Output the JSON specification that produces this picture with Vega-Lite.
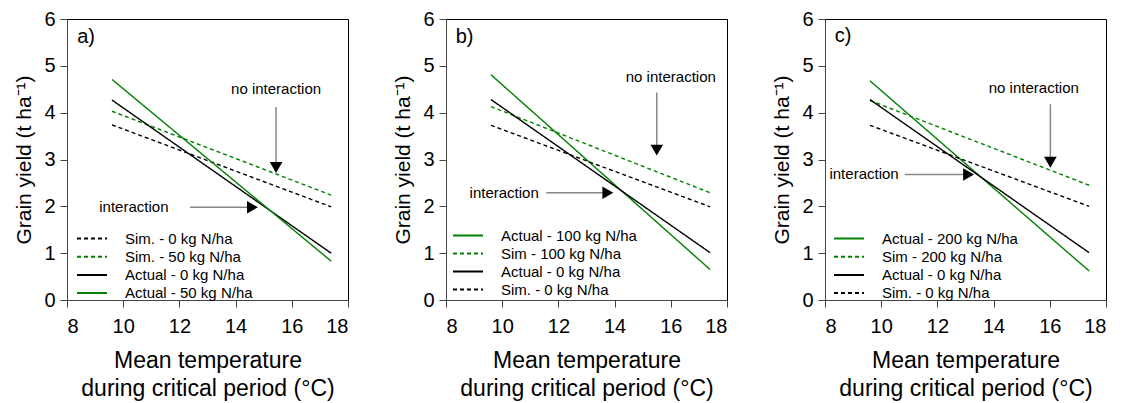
{
  "$schema": "https://vega.github.io/schema/vega-lite/v6.json",
  "padding": {"left": 13, "top": 8, "right": 5, "bottom": 5},
  "spacing": 98,
  "bounds": "flush",
  "config": {
    "font": "Liberation Sans",
    "view": {"stroke": "black", "strokeWidth": 1},
    "axis": {
      "labelFont": "Liberation Sans", "titleFont": "Liberation Sans",
      "labelColor": "black", "titleColor": "black", "titleFontWeight": "normal",
      "domainColor": "#444", "tickColor": "#444", "grid": false, "tickSize": 7
    },
    "legend": {"labelFont": "Liberation Sans"}
  },
  "resolve": {"scale": {"color": "independent", "strokeDash": "independent"}},
  "datasets": {
    "linesA": [
      {"series": "Sim. - 0 kg N/ha", "t": 9.6, "y": 3.74}, {"series": "Sim. - 0 kg N/ha", "t": 17.4, "y": 1.99},
      {"series": "Sim. - 50 kg N/ha", "t": 9.6, "y": 4.03}, {"series": "Sim. - 50 kg N/ha", "t": 17.4, "y": 2.24},
      {"series": "Actual - 0 kg N/ha", "t": 9.6, "y": 4.27}, {"series": "Actual - 0 kg N/ha", "t": 17.4, "y": 1.0},
      {"series": "Actual - 50 kg N/ha", "t": 9.6, "y": 4.71}, {"series": "Actual - 50 kg N/ha", "t": 17.4, "y": 0.83}
    ],
    "linesB": [
      {"series": "Actual - 100 kg N/ha", "t": 9.6, "y": 4.81}, {"series": "Actual - 100 kg N/ha", "t": 17.4, "y": 0.65},
      {"series": "Sim - 100 kg N/ha", "t": 9.6, "y": 4.13}, {"series": "Sim - 100 kg N/ha", "t": 17.4, "y": 2.29},
      {"series": "Actual - 0 kg N/ha", "t": 9.6, "y": 4.28}, {"series": "Actual - 0 kg N/ha", "t": 17.4, "y": 1.01},
      {"series": "Sim. - 0 kg N/ha", "t": 9.6, "y": 3.73}, {"series": "Sim. - 0 kg N/ha", "t": 17.4, "y": 1.99}
    ],
    "linesC": [
      {"series": "Actual - 200 kg N/ha", "t": 9.6, "y": 4.68}, {"series": "Actual - 200 kg N/ha", "t": 17.4, "y": 0.62},
      {"series": "Sim - 200 kg N/ha", "t": 9.6, "y": 4.26}, {"series": "Sim - 200 kg N/ha", "t": 17.4, "y": 2.45},
      {"series": "Actual - 0 kg N/ha", "t": 9.6, "y": 4.28}, {"series": "Actual - 0 kg N/ha", "t": 17.4, "y": 1.01},
      {"series": "Sim. - 0 kg N/ha", "t": 9.6, "y": 3.73}, {"series": "Sim. - 0 kg N/ha", "t": 17.4, "y": 2.0}
    ],
    "textA": [
      {"label": "no interaction", "t": 15.44, "y": 4.5, "size": 15},
      {"label": "interaction", "t": 10.38, "y": 1.99, "size": 15},
      {"label": "a)", "t": 8.68, "y": 5.62, "size": 20}
    ],
    "textB": [
      {"label": "no interaction", "t": 16.0, "y": 4.77, "size": 15},
      {"label": "interaction", "t": 10.07, "y": 2.29, "size": 15},
      {"label": "b)", "t": 8.66, "y": 5.62, "size": 20}
    ],
    "textC": [
      {"label": "no interaction", "t": 15.43, "y": 4.52, "size": 15},
      {"label": "interaction", "t": 9.39, "y": 2.68, "size": 15},
      {"label": "c)", "t": 8.64, "y": 5.64, "size": 20}
    ],
    "shaftA": [
      {"t": 15.44, "t2": 15.44, "y": 4.12, "y2": 2.9},
      {"t": 12.38, "t2": 14.5, "y": 1.98, "y2": 1.98}
    ],
    "shaftB": [
      {"t": 15.5, "t2": 15.5, "y": 4.43, "y2": 3.27},
      {"t": 11.57, "t2": 13.7, "y": 2.29, "y2": 2.29}
    ],
    "shaftC": [
      {"t": 16.02, "t2": 16.02, "y": 4.18, "y2": 3.0},
      {"t": 10.84, "t2": 13.05, "y": 2.68, "y2": 2.68}
    ],
    "headA": [
      {"t": 15.44, "y": 2.83, "shape": "triangle-down"},
      {"t": 14.6, "y": 1.98, "shape": "triangle-right"}
    ],
    "headB": [
      {"t": 15.5, "y": 3.2, "shape": "triangle-down"},
      {"t": 13.76, "y": 2.29, "shape": "triangle-right"}
    ],
    "headC": [
      {"t": 16.02, "y": 2.94, "shape": "triangle-down"},
      {"t": 13.11, "y": 2.68, "shape": "triangle-right"}
    ]
  },
  "hconcat": [
    {
      "width": 281, "height": 281,
      "encoding": {
        "x": {"field": "t", "type": "quantitative", "scale": {"domain": [8, 18], "nice": false},
              "axis": {"values": [8, 10, 12, 14, 16, 18], "labelFontSize": 20, "labelPadding": 9, "titleFontSize": 23, "titlePadding": 13, "titleLineHeight": 28,
                       "title": ["Mean temperature", "during critical period (°C)"]}},
        "y": {"field": "y", "type": "quantitative", "scale": {"domain": [0, 6], "nice": false},
              "axis": {"values": [0, 1, 2, 3, 4, 5, 6], "labelFontSize": 20, "labelPadding": 5, "titleFontSize": 21, "titlePadding": 9, "title": "Grain yield (t ha⁻¹)"}}
      },
      "layer": [
        {
          "data": {"name": "linesA"},
          "mark": {"type": "line", "strokeWidth": 1.4},
          "encoding": {
            "color": {"field": "series", "type": "nominal",
              "scale": {"domain": ["Sim. - 0 kg N/ha", "Sim. - 50 kg N/ha", "Actual - 0 kg N/ha", "Actual - 50 kg N/ha"], "range": ["#000000", "#008000", "#000000", "#008000"]},
              "legend": {"title": null, "orient": "none", "legendX": 9, "legendY": 212, "symbolType": "stroke", "symbolSize": 900, "symbolStrokeWidth": 2, "labelFontSize": 15, "labelColor": "black", "labelOffset": 17, "clipHeight": 15, "rowPadding": 2.2, "labelLimit": 300}},
            "strokeDash": {"field": "series", "type": "nominal",
              "scale": {"domain": ["Sim. - 0 kg N/ha", "Sim. - 50 kg N/ha", "Actual - 0 kg N/ha", "Actual - 50 kg N/ha"], "range": [[4, 3], [4, 3], [1, 0], [1, 0]]},
              "legend": {"title": null, "orient": "none", "legendX": 9, "legendY": 212, "symbolType": "stroke", "symbolSize": 900, "symbolStrokeWidth": 2, "labelFontSize": 15, "labelColor": "black", "labelOffset": 17, "clipHeight": 15, "rowPadding": 2.2, "labelLimit": 300}}
          }
        },
        {"data": {"name": "shaftA"}, "mark": {"type": "rule", "color": "#888888", "strokeWidth": 1.5},
         "encoding": {"x": {"field": "t", "type": "quantitative"}, "x2": {"field": "t2"}, "y": {"field": "y", "type": "quantitative"}, "y2": {"field": "y2"}}},
        {"data": {"name": "headA"}, "mark": {"type": "point", "filled": true, "color": "black", "opacity": 1, "size": 160},
         "encoding": {"shape": {"field": "shape", "type": "nominal", "scale": null}}},
        {"data": {"name": "textA"}, "mark": {"type": "text", "align": "center", "baseline": "middle", "color": "black"},
         "encoding": {"text": {"field": "label"}, "size": {"field": "size", "type": "quantitative", "scale": null}}}
      ]
    },
    {
      "width": 281, "height": 281,
      "encoding": {
        "x": {"field": "t", "type": "quantitative", "scale": {"domain": [8, 18], "nice": false},
              "axis": {"values": [8, 10, 12, 14, 16, 18], "labelFontSize": 20, "labelPadding": 9, "titleFontSize": 23, "titlePadding": 13, "titleLineHeight": 28,
                       "title": ["Mean temperature", "during critical period (°C)"]}},
        "y": {"field": "y", "type": "quantitative", "scale": {"domain": [0, 6], "nice": false},
              "axis": {"values": [0, 1, 2, 3, 4, 5, 6], "labelFontSize": 20, "labelPadding": 5, "titleFontSize": 21, "titlePadding": 9, "title": "Grain yield (t ha⁻¹)"}}
      },
      "layer": [
        {
          "data": {"name": "linesB"},
          "mark": {"type": "line", "strokeWidth": 1.4},
          "encoding": {
            "color": {"field": "series", "type": "nominal",
              "scale": {"domain": ["Actual - 100 kg N/ha", "Sim - 100 kg N/ha", "Actual - 0 kg N/ha", "Sim. - 0 kg N/ha"], "range": ["#008000", "#008000", "#000000", "#000000"]},
              "legend": {"title": null, "orient": "none", "legendX": 6, "legendY": 209, "symbolType": "stroke", "symbolSize": 900, "symbolStrokeWidth": 2, "labelFontSize": 15, "labelColor": "black", "labelOffset": 17, "clipHeight": 15, "rowPadding": 2, "labelLimit": 300}},
            "strokeDash": {"field": "series", "type": "nominal",
              "scale": {"domain": ["Actual - 100 kg N/ha", "Sim - 100 kg N/ha", "Actual - 0 kg N/ha", "Sim. - 0 kg N/ha"], "range": [[1, 0], [4, 3], [1, 0], [4, 3]]},
              "legend": {"title": null, "orient": "none", "legendX": 6, "legendY": 209, "symbolType": "stroke", "symbolSize": 900, "symbolStrokeWidth": 2, "labelFontSize": 15, "labelColor": "black", "labelOffset": 17, "clipHeight": 15, "rowPadding": 2, "labelLimit": 300}}
          }
        },
        {"data": {"name": "shaftB"}, "mark": {"type": "rule", "color": "#888888", "strokeWidth": 1.5},
         "encoding": {"x": {"field": "t", "type": "quantitative"}, "x2": {"field": "t2"}, "y": {"field": "y", "type": "quantitative"}, "y2": {"field": "y2"}}},
        {"data": {"name": "headB"}, "mark": {"type": "point", "filled": true, "color": "black", "opacity": 1, "size": 160},
         "encoding": {"shape": {"field": "shape", "type": "nominal", "scale": null}}},
        {"data": {"name": "textB"}, "mark": {"type": "text", "align": "center", "baseline": "middle", "color": "black"},
         "encoding": {"text": {"field": "label"}, "size": {"field": "size", "type": "quantitative", "scale": null}}}
      ]
    },
    {
      "width": 281, "height": 281,
      "encoding": {
        "x": {"field": "t", "type": "quantitative", "scale": {"domain": [8, 18], "nice": false},
              "axis": {"values": [8, 10, 12, 14, 16, 18], "labelFontSize": 20, "labelPadding": 9, "titleFontSize": 23, "titlePadding": 13, "titleLineHeight": 28,
                       "title": ["Mean temperature", "during critical period (°C)"]}},
        "y": {"field": "y", "type": "quantitative", "scale": {"domain": [0, 6], "nice": false},
              "axis": {"values": [0, 1, 2, 3, 4, 5, 6], "labelFontSize": 20, "labelPadding": 5, "titleFontSize": 21, "titlePadding": 9, "title": "Grain yield (t ha⁻¹)"}}
      },
      "layer": [
        {
          "data": {"name": "linesC"},
          "mark": {"type": "line", "strokeWidth": 1.4},
          "encoding": {
            "color": {"field": "series", "type": "nominal",
              "scale": {"domain": ["Actual - 200 kg N/ha", "Sim - 200 kg N/ha", "Actual - 0 kg N/ha", "Sim. - 0 kg N/ha"], "range": ["#008000", "#008000", "#000000", "#000000"]},
              "legend": {"title": null, "orient": "none", "legendX": 8, "legendY": 212, "symbolType": "stroke", "symbolSize": 900, "symbolStrokeWidth": 2, "labelFontSize": 15, "labelColor": "black", "labelOffset": 17, "clipHeight": 15, "rowPadding": 2.2, "labelLimit": 300}},
            "strokeDash": {"field": "series", "type": "nominal",
              "scale": {"domain": ["Actual - 200 kg N/ha", "Sim - 200 kg N/ha", "Actual - 0 kg N/ha", "Sim. - 0 kg N/ha"], "range": [[1, 0], [4, 3], [1, 0], [4, 3]]},
              "legend": {"title": null, "orient": "none", "legendX": 8, "legendY": 212, "symbolType": "stroke", "symbolSize": 900, "symbolStrokeWidth": 2, "labelFontSize": 15, "labelColor": "black", "labelOffset": 17, "clipHeight": 15, "rowPadding": 2.2, "labelLimit": 300}}
          }
        },
        {"data": {"name": "shaftC"}, "mark": {"type": "rule", "color": "#888888", "strokeWidth": 1.5},
         "encoding": {"x": {"field": "t", "type": "quantitative"}, "x2": {"field": "t2"}, "y": {"field": "y", "type": "quantitative"}, "y2": {"field": "y2"}}},
        {"data": {"name": "headC"}, "mark": {"type": "point", "filled": true, "color": "black", "opacity": 1, "size": 160},
         "encoding": {"shape": {"field": "shape", "type": "nominal", "scale": null}}},
        {"data": {"name": "textC"}, "mark": {"type": "text", "align": "center", "baseline": "middle", "color": "black"},
         "encoding": {"text": {"field": "label"}, "size": {"field": "size", "type": "quantitative", "scale": null}}}
      ]
    }
  ]
}
